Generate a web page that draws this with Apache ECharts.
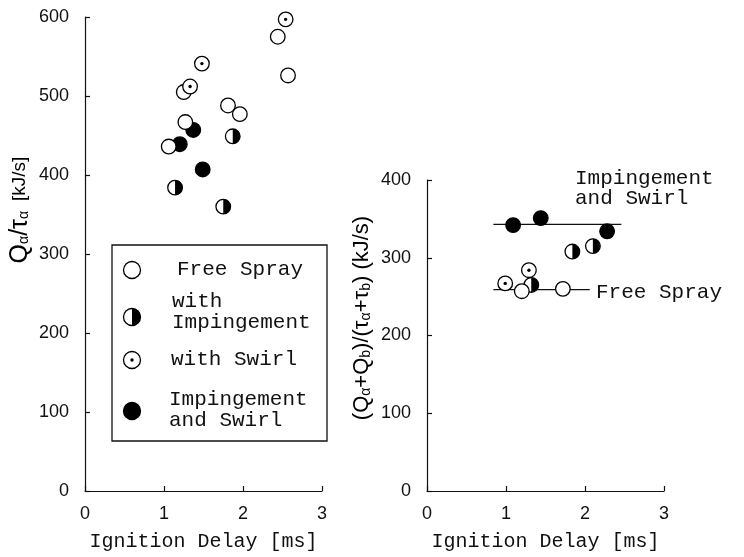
<!DOCTYPE html>
<html><head><meta charset="utf-8">
<script src="https://cdn.jsdelivr.net/npm/echarts@6/dist/echarts.min.js"></script>
<style>html,body{margin:0;padding:0;background:#fff}#c{width:744px;height:557px}</style>
</head><body><div id="c"></div>
<script>
// ---- data (ignition delay [ms], heat release rate [kJ/s]) ----
const xTicks = [0, 1, 2, 3];
const leftYTicks = [0, 100, 200, 300, 400, 500, 600];
const rightYTicks = [0, 100, 200, 300, 400];

// Left panel: Qa/τa
const leftFree  = [[2.44,575],[2.57,526],[1.25,505],[1.81,488],[1.96,477],[1.27,467],[1.06,436]];
const leftSwirl = [[2.54,597],[1.48,541],[1.33,512]];
const leftImp   = [[1.87,449],[1.14,384],[1.75,360]];
const leftBoth  = [[1.37,457],[1.20,439],[1.49,407]];

// Right panel: (Qa+Qb)/(τa+τb)
const rightFree  = [[1.20,257],[1.72,260]];
const rightSwirl = [[0.99,267],[1.29,284]];
const rightImp   = [[1.84,308],[2.10,315],[1.32,265]];
const rightBoth  = [[1.09,342],[1.44,351],[2.28,334]];

// Mean lines in right panel
const lineBoth = [[0.84,343],[2.46,343]];
const lineFree = [[0.84,259],[2.06,259]];

const legendLabels = ['Free Spray', 'with\nImpingement', 'with Swirl', 'Impingement\nand Swirl'];

// ---- rendering ----
const chart = echarts.init(document.getElementById('c'));
const R = 7.3;
const MONO = '"Liberation Mono", "Courier New", monospace';
const SANS = '"Liberation Sans", Arial, sans-serif';

function markerShapes(kind, cx, cy, r, z){
  const ch = [{type:'circle', z:z, shape:{cx, cy, r},
    style:{fill: kind==='both' ? '#000' : '#fff', stroke:'#000', lineWidth:1.3}}];
  if (kind==='imp') ch.push({type:'sector', z:z, z2:1, shape:{cx, cy, r, r0:0, startAngle:-Math.PI/2, endAngle:Math.PI/2, clockwise:true}, style:{fill:'#000'}});
  if (kind==='swirl') ch.push({type:'circle', z:z, z2:1, shape:{cx, cy, r:1.7}, style:{fill:'#000'}});
  return ch;
}
function mk(kind){
  return function(params, api){
    const p = api.coord([api.value(0), api.value(1)]);
    return {type:'group', children: markerShapes(kind, p[0], p[1], R)};
  };
}
function series(idx, data, kind, z){
  return {type:'custom', xAxisIndex:idx, yAxisIndex:idx, data, renderItem: mk(kind), z, silent:true};
}

const axisCommon = {
  axisLine:{show:true, lineStyle:{color:'#111', width:1.2}},
  axisTick:{show:true, inside:true, length:5, lineStyle:{color:'#111', width:1.2}},
  splitLine:{show:false},
  axisLabel:{color:'#111', fontFamily:SANS, fontSize:18}
};
function xAxis(i){
  return Object.assign({}, axisCommon, {type:'value', gridIndex:i, min:xTicks[0], max:xTicks[xTicks.length-1], interval:1,
    axisLabel:Object.assign({}, axisCommon.axisLabel, {margin:14}),
    name:'Ignition Delay [ms]', nameLocation:'middle', nameGap:41,
    nameTextStyle:{fontFamily:MONO, fontSize:20, color:'#111'}});
}
function yAxis(i, ticks){
  return Object.assign({}, axisCommon, {type:'value', gridIndex:i, min:ticks[0], max:ticks[ticks.length-1], interval:100,
    axisLabel:Object.assign({}, axisCommon.axisLabel, {margin:16})});
}

const sub = {fontSize:14, fontFamily:SANS, padding:[9,0,0,0], color:'#111'};
const big = {fontSize:25, fontFamily:SANS, color:'#111'};
const mid = {fontSize:19, fontFamily:SANS, color:'#111'};
const mid2 = {fontSize:22, fontFamily:SANS, color:'#111'};

const legendGraphics = [];
legendGraphics.push({type:'rect', shape:{x:112, y:245, width:215, height:196}, style:{fill:'#fff', stroke:'#111', lineWidth:1.3}, z:50});
const legKinds = ['free','imp','swirl','both'];
const legMarkerY = [270, 317, 360, 411];
const legTextY = [269, 312, 359, 410];
const legTextX = [177, 172, 171, 169];
legKinds.forEach((k, i) => {
  markerShapes(k, 132, legMarkerY[i], 8.5, 52).forEach(s => legendGraphics.push(s));
  legendGraphics.push({type:'text', z:52, style:{text:legendLabels[i], x:legTextX[i], y:legTextY[i], fill:'#111',
    font:'21px ' + MONO, verticalAlign:'middle', lineHeight:21}});
});

chart.setOption({
  animation:false,
  backgroundColor:'#fff',
  grid:[
    {left:85, top:17, width:237, height:479},
    {left:427, top:180, width:237, height:317}
  ],
  xAxis:[xAxis(0), xAxis(1)],
  yAxis:[yAxis(0, leftYTicks), yAxis(1, rightYTicks)],
  series:[
    series(0, leftBoth, 'both', 2),
    series(0, leftImp, 'imp', 3),
    series(0, leftFree, 'free', 4),
    series(0, leftSwirl, 'swirl', 5),
    {type:'line', xAxisIndex:1, yAxisIndex:1, data:lineBoth, symbol:'none', lineStyle:{color:'#111', width:1.3}, z:1, silent:true},
    {type:'line', xAxisIndex:1, yAxisIndex:1, data:lineFree, symbol:'none', lineStyle:{color:'#111', width:1.3}, z:1, silent:true},
    series(1, rightBoth, 'both', 2),
    series(1, rightImp, 'imp', 3),
    series(1, rightSwirl, 'swirl', 4),
    series(1, rightFree, 'free', 5)
  ],
  graphic: legendGraphics.concat([
    {type:'text', x:20, y:210, rotation:Math.PI/2, z:60,
      style:{text:'{b|Q}{s|α}{b|/τ}{s|α}   {m|[kJ/s]}', rich:{b:big, s:sub, m:mid}, align:'center', verticalAlign:'middle'}},
    {type:'text', x:362, y:318, rotation:Math.PI/2, z:60,
      style:{text:'{m|(Q}{s|α}{m|+Q}{s|b}{m|)/(τ}{s|α}{m|+τ}{s|b}{m|) (kJ/s)}', rich:{m:mid2, s:sub}, align:'center', verticalAlign:'middle'}},
    {type:'text', x:575, y:188, z:60, style:{text:'Impingement\nand Swirl', fill:'#111', font:'21px ' + MONO, verticalAlign:'middle', lineHeight:20}},
    {type:'text', x:596, y:292, z:60, style:{text:'Free Spray', fill:'#111', font:'21px ' + MONO, verticalAlign:'middle'}}
  ])
});
</script></body></html>
